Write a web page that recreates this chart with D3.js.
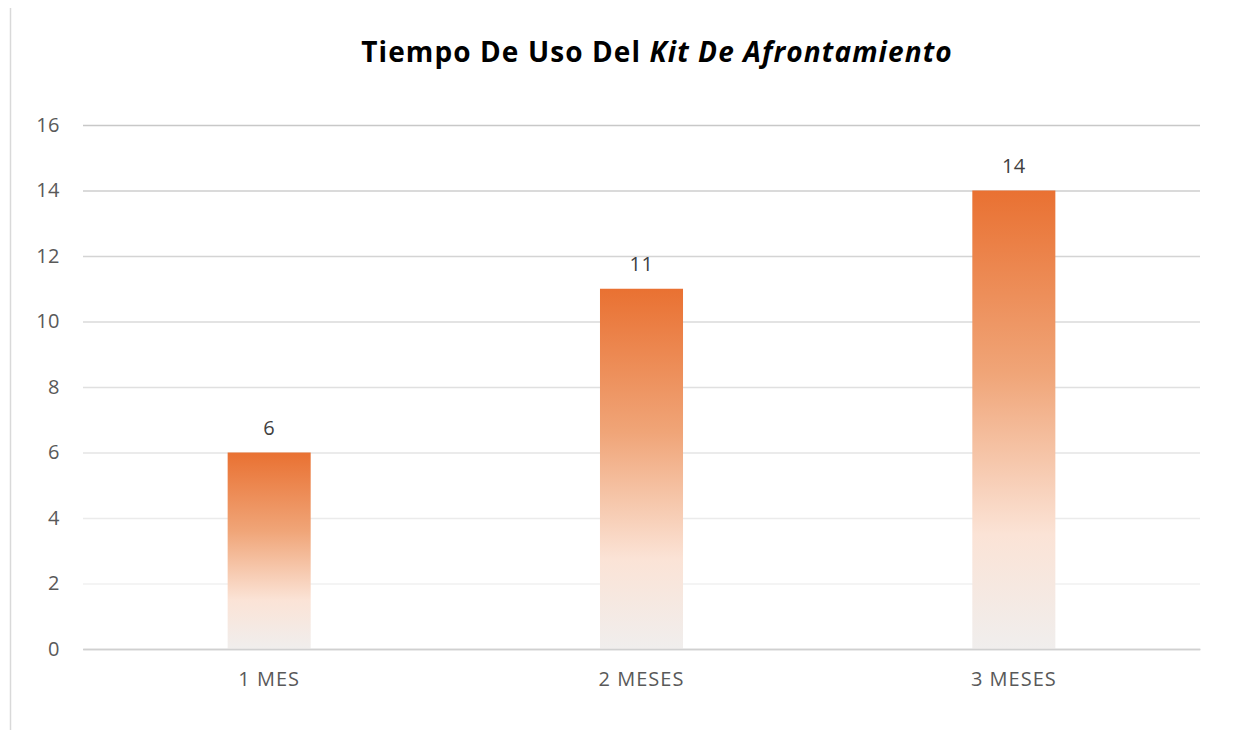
<!DOCTYPE html>
<html><head><meta charset="utf-8">
<script src="https://cdn.jsdelivr.net/npm/d3@7"></script>
<style>body{margin:0;background:#fff;}svg{display:block;}</style>
</head><body>
<script>
const categories = ["1 MES", "2 MESES", "3 MESES"];
const values = [6, 11, 14];
const yTicks = [0, 2, 4, 6, 8, 10, 12, 14, 16];

const W = 1235, H = 730;
const m = {left: 83, right: 35, top: 125, bottom: 81};
const svg = d3.select("body").append("svg").attr("width", W).attr("height", H);

const defs = svg.append("defs");
const grad = defs.append("linearGradient").attr("id", "barGrad")
  .attr("x1", 0).attr("y1", 0).attr("x2", 0).attr("y2", 1);
grad.append("stop").attr("offset", "0%").attr("stop-color", "#E97132");
grad.append("stop").attr("offset", "40%").attr("stop-color", "#F0A578");
grad.append("stop").attr("offset", "75%").attr("stop-color", "#FBE3D6");
grad.append("stop").attr("offset", "100%").attr("stop-color", "#F0EEED");

svg.append("line").attr("x1", 10.5).attr("x2", 10.5).attr("y1", 8).attr("y2", H)
  .attr("stroke", "#d9d9d9").attr("stroke-width", 1.5);

const x = d3.scaleBand().domain(categories).range([m.left, W - m.right]).paddingInner(0.777).paddingOuter(0.3885);
const y = d3.scaleLinear().domain([0, 16]).range([H - m.bottom, m.top]);

const gridColor = d3.scaleLinear().domain([0, 2, 8, 16]).range(["#d0d0d0", "#f0f0f0", "#e0e0e0", "#c8c8c8"]);
const font = "'Open Sans', sans-serif";

const yAxis = d3.axisLeft(y).tickValues(yTicks).tickSize(-(W - m.left - m.right)).tickPadding(23);
const gy = svg.append("g").attr("transform", `translate(${m.left},0)`).call(yAxis);
gy.select(".domain").remove();
gy.selectAll(".tick line").attr("stroke", d => gridColor(d)).attr("stroke-width", 1.5);
gy.selectAll(".tick text").attr("fill", "#595959").style("font-family", font).style("font-size", "20px").style("letter-spacing", "0.5px");

svg.append("g").selectAll("rect").data(values).join("rect")
  .attr("x", (d, i) => x(categories[i]))
  .attr("width", x.bandwidth())
  .attr("y", d => y(d))
  .attr("height", d => y(0) - y(d))
  .attr("fill", "url(#barGrad)");

svg.append("g").selectAll("text").data(values).join("text")
  .attr("x", (d, i) => x(categories[i]) + x.bandwidth() / 2)
  .attr("y", d => y(d) - 18)
  .attr("text-anchor", "middle")
  .attr("fill", "#404040")
  .style("font-family", font).style("font-size", "20px").style("letter-spacing", "0.5px")
  .text(d => d);

const xAxis = d3.axisBottom(x).tickSize(0).tickPadding(23);
const gx = svg.append("g").attr("transform", `translate(0,${y(0)})`).call(xAxis);
gx.select(".domain").attr("stroke", "#d0d0d0").attr("stroke-width", 1.5);
gx.selectAll(".tick text").attr("fill", "#595959").style("font-family", font).style("font-size", "20px").style("letter-spacing", "1px");

const title = svg.append("text").attr("x", 657).attr("y", 62).attr("text-anchor", "middle")
  .attr("fill", "#000").style("font-family", font).style("font-size", "28px").style("font-weight", "bold").style("letter-spacing", "1.1px");
title.append("tspan").text("Tiempo De Uso Del ");
title.append("tspan").style("font-style", "italic").text("Kit De Afrontamiento");
</script>
</body></html>
